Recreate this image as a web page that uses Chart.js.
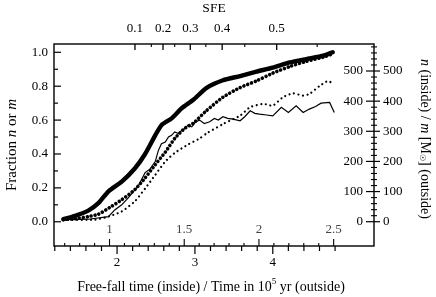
<!DOCTYPE html>
<html>
<head>
<meta charset="utf-8">
<script src="https://cdn.jsdelivr.net/npm/chart.js@4"></script>
<style>
  body { margin: 0; background: #fff; }
  #wrap { width: 436px; height: 297px; }
</style>
</head>
<body>
<div id="wrap"><canvas id="chart" width="436" height="297"></canvas></div>
<script>
// thick solid line: fraction n
const thickTime = [1.31, 1.46, 1.63, 1.76, 1.89, 2.06, 2.23, 2.36, 2.49, 2.57, 2.70, 2.83, 2.98, 3.15, 3.36, 3.58, 3.79, 4.00, 4.22, 4.43, 4.65, 4.77];
const thickFrac = [0.015, 0.035, 0.066, 0.11, 0.18, 0.237, 0.316, 0.40, 0.51, 0.57, 0.61, 0.67, 0.72, 0.79, 0.835, 0.86, 0.886, 0.91, 0.94, 0.96, 0.98, 1.0];

// thin solid line: fraction m
const thinTime = [1.31, 1.63, 1.89, 1.97, 2.06, 2.14, 2.27, 2.36, 2.42, 2.49, 2.53, 2.57, 2.62, 2.66, 2.70, 2.74, 2.79, 2.83, 2.87, 2.91, 2.96, 3.01, 3.06, 3.12, 3.19, 3.25, 3.30, 3.36, 3.42, 3.49, 3.58, 3.64, 3.71, 3.77, 3.83, 3.92, 4.00, 4.11, 4.20, 4.30, 4.39, 4.47, 4.55, 4.62, 4.73, 4.79];
const thinFrac = [0.012, 0.015, 0.03, 0.07, 0.10, 0.14, 0.21, 0.29, 0.31, 0.355, 0.42, 0.46, 0.47, 0.50, 0.51, 0.53, 0.52, 0.54, 0.55, 0.57, 0.56, 0.59, 0.60, 0.58, 0.59, 0.61, 0.60, 0.62, 0.61, 0.606, 0.596, 0.62, 0.655, 0.64, 0.635, 0.63, 0.625, 0.675, 0.645, 0.684, 0.645, 0.665, 0.68, 0.70, 0.704, 0.645];

// big dots: n (inside)
const bigTime = [1.31, 1.46, 1.63, 1.76, 1.93, 2.06, 2.23, 2.36, 2.49, 2.62, 2.74, 2.87, 2.98, 3.15, 3.36, 3.58, 3.79, 4.00, 4.22, 4.43, 4.65, 4.77];
const bigN = [7, 10, 17, 25, 51, 73, 107, 145, 189, 231, 276, 310, 327, 369, 413, 445, 467, 493, 515, 532, 546, 557];

// small dots: m [Msun] (outside)
const smallTime = [1.31, 1.72, 1.89, 2.06, 2.23, 2.36, 2.49, 2.62, 2.74, 2.91, 3.06, 3.15, 3.36, 3.58, 3.71, 3.88, 4.00, 4.13, 4.26, 4.39, 4.47, 4.60, 4.71, 4.78];
const smallM = [6, 7, 17, 34, 68, 110, 155, 200, 228, 256, 276, 293, 324, 352, 380, 391, 385, 413, 426, 418, 424, 450, 467, 456];

// axis ticks
const fracTicks = [0.0, 0.2, 0.4, 0.6, 0.8, 1.0];
const countTicks = [0, 100, 200, 300, 400, 500];
const timeTicks = [2, 3, 4];
const ffTicks = [1, 1.5, 2, 2.5];
const sfeLabels = ['0.1', '0.2', '0.3', '0.4', '0.5'];
const sfeTime = [2.23, 2.59, 2.94, 3.35, 4.05];        // where each SFE label sits on the time axis
const sfeMinorTime = [2.44, 2.74, 3.14, 3.64, 4.57];

const pts = (xs, ys) => xs.map((x, i) => ({ x: x, y: ys[i] }));
const SERIF = "'Liberation Serif', 'Times New Roman', serif";

const axesPlugin = {
  id: 'axes',
  afterDraw(chart) {
    const { ctx, chartArea: a, scales } = chart;
    const sx = scales.x, sff = scales.ff, yl = scales.y, yr = scales.y2;
    ctx.save();
    ctx.strokeStyle = '#000';
    ctx.fillStyle = '#000';
    ctx.lineWidth = 1.4;
    ctx.strokeRect(a.left, a.top, a.right - a.left, a.bottom - a.top);

    const line = (x1, y1, x2, y2, w) => {
      ctx.lineWidth = w || 1;
      ctx.beginPath(); ctx.moveTo(x1, y1); ctx.lineTo(x2, y2); ctx.stroke();
    };
    ctx.font = '13px ' + SERIF;
    ctx.textBaseline = 'middle';

    // left axis: fraction
    for (let v = 0; v <= 1.0001; v += 0.1) {
      const y = yl.getPixelForValue(v);
      const major = Math.abs(v * 5 - Math.round(v * 5)) < 1e-6;
      line(a.left, y, a.left + (major ? 7 : 4), y, 1.2);
    }
    ctx.textAlign = 'right';
    fracTicks.forEach(v => ctx.fillText(v.toFixed(1), a.left - 6, yl.getPixelForValue(v)));

    // right axis: n / m, ticks both sides
    for (let v = 0; v <= 580; v += 20) {
      const y = yr.getPixelForValue(v);
      const major = v % 100 === 0;
      if (major) line(a.right - 8, y, a.right + 6, y, 1.2);
      else line(a.right - 3, y, a.right + 3, y, 1.1);
    }
    countTicks.forEach(v => {
      const y = yr.getPixelForValue(v);
      ctx.textAlign = 'right';
      ctx.fillText(String(v), a.right - 11, y);
      ctx.textAlign = 'left';
      ctx.fillText(String(v), a.right + 9, y);
    });

    // bottom, outside: time in 1e5 yr
    for (let k = 6; k <= 24; k++) {
      const x = sx.getPixelForValue(k / 5);
      line(x, a.bottom, x, a.bottom + (k % 5 === 0 ? 8 : 5), 1.2);
    }
    ctx.textAlign = 'center';
    timeTicks.forEach(v => ctx.fillText(String(v), sx.getPixelForValue(v), a.bottom + 17));

    // bottom, inside: free-fall time
    for (let k = 7; k <= 25; k++) {
      const x = sff.getPixelForValue(k / 10);
      line(x, a.bottom, x, a.bottom - (k % 5 === 0 ? 7 : 3), 1.1);
    }
    ctx.fillStyle = '#444';
    ffTicks.forEach(v => ctx.fillText(String(v), sff.getPixelForValue(v), a.bottom - 16));
    ctx.fillStyle = '#000';

    // top: SFE (non-linear, placed on the time axis)
    sfeTime.forEach((t, i) => {
      const x = sx.getPixelForValue(t);
      line(x, a.top, x, a.top + 6, 1.3);
      ctx.fillText(sfeLabels[i], x, a.top - 15);
    });
    sfeMinorTime.forEach(t => {
      const x = sx.getPixelForValue(t);
      line(x, a.top, x, a.top + 3, 1.1);
    });
    ctx.font = '13.5px ' + SERIF;
    ctx.fillText('SFE', (a.left + a.right) / 2, 8);

    // titles built from pieces
    const run = (pieces, cx, cy, rot) => {
      ctx.save();
      ctx.translate(cx, cy);
      ctx.rotate(rot);
      let w = 0;
      pieces.forEach(p => { ctx.font = p.f; w += ctx.measureText(p.t).width; });
      let x = -w / 2;
      ctx.textAlign = 'left';
      pieces.forEach(p => {
        ctx.font = p.f;
        ctx.fillText(p.t, x, p.dy || 0);
        x += ctx.measureText(p.t).width;
      });
      ctx.restore();
    };
    const N = '14px ' + SERIF, I = 'italic 14px ' + SERIF, S = '9px ' + SERIF;
    run([{ t: 'Free-fall time (inside) / Time in 10', f: N }, { t: '5', f: S, dy: -5 }, { t: ' yr (outside)', f: N }],
      211, 287, 0);
    const L = '15px ' + SERIF, LI = 'italic 15px ' + SERIF;
    run([{ t: 'Fraction ', f: L }, { t: 'n', f: LI }, { t: ' or ', f: L }, { t: 'm', f: LI }],
      12, 145, -Math.PI / 2);
    run([{ t: 'n', f: I }, { t: ' (inside) / ', f: N }, { t: 'm', f: I }, { t: ' [M', f: N },
         { t: '\u2609', f: "8px 'DejaVu Sans'", dy: 3 }, { t: '] (outside)', f: N }],
      425, 139, Math.PI / 2);
    ctx.restore();
  }
};

new Chart(document.getElementById('chart').getContext('2d'), {
  type: 'line',
  data: {
    datasets: [
      { data: pts(thickTime, thickFrac), yAxisID: 'y', borderColor: '#000', borderWidth: 4.4,
        pointRadius: 0, tension: 0.2, borderCapStyle: 'round', borderJoinStyle: 'round' },
      { data: pts(thinTime, thinFrac), yAxisID: 'y', borderColor: '#000', borderWidth: 1.2,
        pointRadius: 0, tension: 0 },
      { data: pts(bigTime, bigN), yAxisID: 'y2', borderColor: '#000', borderWidth: 3.6,
        borderDash: [0.001, 4], borderCapStyle: 'round', pointRadius: 0, tension: 0.2 },
      { data: pts(smallTime, smallM), yAxisID: 'y2', borderColor: '#000', borderWidth: 2.2,
        borderDash: [0.001, 4.6], borderCapStyle: 'round', pointRadius: 0, tension: 0.2 }
    ]
  },
  options: {
    responsive: false,
    animation: false,
    layout: { padding: { left: 54, right: 62, top: 44, bottom: 51 } },
    plugins: { legend: { display: false }, tooltip: { enabled: false } },
    scales: {
      x: { type: 'linear', min: 1.19, max: 5.3, display: false },
      ff: { type: 'linear', axis: 'x', min: 0.6285, max: 2.77, display: false },
      y: { type: 'linear', min: -0.143, max: 1.049, display: false },
      y2: { type: 'linear', min: -80.6, max: 589.6, display: false }
    }
  },
  plugins: [axesPlugin]
});
</script>
</body>
</html>
